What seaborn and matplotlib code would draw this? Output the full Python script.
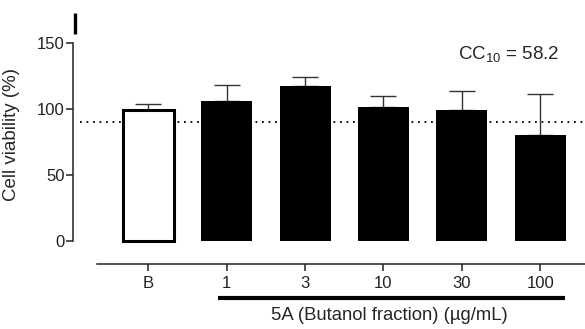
import numpy as np
import pandas as pd
import seaborn as sns
import matplotlib
import matplotlib.pyplot as plt

sns.set_style('ticks')
matplotlib.rcParams['font.family'] = ['Liberation Sans', 'DejaVu Sans']
matplotlib.rcParams['mathtext.fontset'] = 'custom'
matplotlib.rcParams['mathtext.rm'] = 'Liberation Sans'
matplotlib.rcParams['mathtext.it'] = 'Liberation Sans:italic'

# data
groups = ['B', '1', '3', '10', '30', '100']
viability = [99.0, 106.0, 117.3, 101.8, 99.2, 80.3]
sd_up = [4.6, 12.4, 6.8, 8.3, 14.4, 31.3]
bar_colors = ['white', 'black', 'black', 'black', 'black', 'black']
cutoff = 90
cc_text = r'CC$_{10}$ = 58.2'

df = pd.DataFrame({'group': groups, 'viability': viability})

fig = plt.figure(figsize=(5.85, 3.29), dpi=100)
# axes box in pixels: left 73, right 585, bottom 264, top 13
ax = fig.add_axes([73 / 585, (329 - 264) / 329, 512 / 585, (264 - 13) / 329])

ymin, ymax = -17.4, 172.7

ax.plot([-0.87, 5.57], [cutoff, cutoff], color='black', lw=1.3,
        dashes=(1, 2.6), zorder=1, clip_on=False)

ax.errorbar(range(len(groups)), viability, yerr=[np.zeros(len(groups)), sd_up],
            fmt='none', ecolor='#333333', elinewidth=1.0, capsize=9.4,
            capthick=1.0, zorder=2)

sns.barplot(data=df, x='group', y='viability', hue='group', order=groups,
            palette=bar_colors, legend=False, width=0.65, errorbar=None,
            saturation=1, ax=ax, zorder=3)
for i, p in enumerate(ax.patches):
    p.set_edgecolor('black')
    p.set_linewidth(2.2 if i == 0 else 0)
    p.set_zorder(3)

ax.set_ylim(ymin, ymax)
ax.set_xlim(-0.96, 5.57)

sns.despine(ax=ax)
ax.spines['left'].set_bounds(0, 150)
ax.spines['bottom'].set_position(('data', ymin))
ax.spines['bottom'].set_bounds(-0.66, 5.57)
for s in ['left', 'bottom']:
    ax.spines[s].set_linewidth(1.1)
    ax.spines[s].set_color('#222222')

ax.set_yticks([0, 50, 100, 150])
ax.tick_params(axis='y', length=5, width=1.1, labelsize=12, pad=1, colors='#222222')
ax.tick_params(axis='x', length=5, width=1.1, labelsize=12, pad=3.5, colors='#222222')
ax.set_xlabel('')
ax.set_ylabel('Cell viability (%)', fontsize=13.5)
ax.yaxis.set_label_coords(-0.1035, 0.514)

# thick bar marking the fraction concentrations
ax.plot([0.89, 5.31], [-42.9, -42.9], color='black', lw=3, clip_on=False,
        solid_capstyle='butt')
ax.text(3.07, -56.5, '5A (Butanol fraction) (\u00b5g/mL)', ha='center', va='center',
        fontsize=13.3)

ax.text(4.59, 142, cc_text, ha='center', va='center', fontsize=13.5)

# small mark above the y axis
ax.plot([-0.93, -0.93], [157, 173], color='black', lw=2.4, clip_on=False,
        solid_capstyle='butt')

fig.savefig('out.png', dpi=100, facecolor='white')
